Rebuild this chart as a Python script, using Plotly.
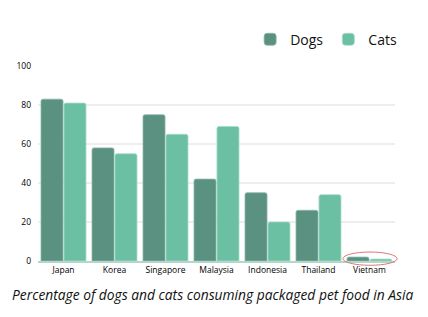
import plotly.graph_objects as go

countries = ["Japan", "Korea", "Singapore", "Malaysia", "Indonesia", "Thailand", "Vietnam"]
dogs = [83, 58, 75, 42, 35, 26, 2]
cats = [81, 55, 65, 69, 20, 34, 1]
y_ticks = [0, 20, 40, 60, 80, 100]

DOG = "#5a9180"
CAT = "#6bbfa3"
FONT = "Open Sans, Lato, sans-serif"

fig = go.Figure()
fig.add_trace(go.Bar(x=countries, y=dogs, name="Dogs",
                     marker=dict(color=DOG, line=dict(color="#8ab8a8", width=0.8), cornerradius=2)))
fig.add_trace(go.Bar(x=countries, y=cats, name="Cats",
                     marker=dict(color=CAT, line=dict(color="#a8dcc8", width=0.8), cornerradius=2)))

fig.update_layout(
    width=428, height=317,
    margin=dict(l=38, r=33, t=66, b=56),
    paper_bgcolor="white", plot_bgcolor="white",
    barmode="group", bargap=0.1, bargroupgap=0.04,
    font=dict(family=FONT, color="#111111"),
    showlegend=True,
    legend=dict(orientation="h", x=1.02, xanchor="right", y=1.135, yanchor="middle",
                font=dict(size=14, color="#111111"), itemwidth=30,
                bgcolor="rgba(0,0,0,0)"),
    xaxis=dict(showgrid=False, showline=True, linecolor="#b5d6ca", linewidth=1.5,
               tickfont=dict(size=8.5, color="#000000"), ticks="", fixedrange=True),
    yaxis=dict(range=[0, 100], tickvals=y_ticks, showgrid=True, gridcolor="#eeeeee",
               gridwidth=1.5, zeroline=False, showline=False,
               tickfont=dict(size=8.5, color="#000000"), ticks="", ticklabelstandoff=6),
    annotations=[dict(text="Percentage of dogs and cats consuming packaged pet food in Asia",
                      xref="paper", yref="paper", x=0.49, y=-0.17, xanchor="center", yanchor="middle",
                      showarrow=False, font=dict(size=13.8, style="italic", color="#111111"))],
    shapes=[dict(type="circle", xref="paper", yref="paper", x0=0.854, x1=1.006, y0=-0.022, y1=0.046,
                 line=dict(color="#e07878", width=1), fillcolor="rgba(0,0,0,0)", layer="above")],
)

fig.write_html("out.html")
